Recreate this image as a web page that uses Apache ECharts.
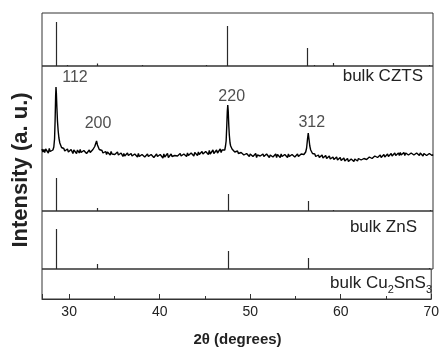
<!DOCTYPE html>
<html>
<head>
<meta charset="utf-8">
<script src="https://cdn.jsdelivr.net/npm/echarts@6/dist/echarts.min.js"></script>
<style>
  html, body { margin: 0; padding: 0; background: #fff; }
  #chart { width: 442px; height: 349px; }
</style>
</head>
<body>
<div id="chart"></div>
<script>
// measured CZTS film pattern, [2theta, intensity a.u.]
const cztsScan = [
  [27.0, 62], [27.1, 59], [27.2, 61.5], [27.3, 58.5], [27.4, 62], [27.5, 60], [27.6, 61], [27.7, 58],
  [27.8, 62.5], [27.9, 59.5], [28.0, 58.5], [28.1, 60.5],
  [28.2, 61], [28.3, 64], [28.38, 72], [28.44, 90], [28.5, 115], [28.54, 124], [28.58, 118],
  [28.64, 103], [28.7, 90], [28.78, 80], [28.86, 73], [28.96, 68], [29.05, 66.5], [29.15, 63.5],
  [29.25, 64], [29.35, 61.5],
  [29.4, 62.5], [29.5, 60], [29.6, 61.5], [29.7, 58.5], [29.8, 62], [29.9, 59], [30.0, 60.5], [30.1, 58],
  [30.2, 61.5], [30.3, 59.5], [30.4, 57.5], [30.5, 61], [30.6, 59], [30.7, 60.5], [30.8, 57.5], [30.9, 61],
  [31.0, 59.5], [31.1, 58], [31.2, 61.5], [31.3, 58.5], [31.4, 60], [31.5, 57.5], [31.6, 60.5], [31.7, 58.5],
  [31.8, 61], [31.9, 57.5], [32.0, 59.5], [32.1, 58], [32.2, 61], [32.3, 58.5], [32.4, 60.5], [32.5, 59],
  [32.6, 61.5], [32.7, 62], [32.8, 64.5], [32.9, 66], [33.0, 70], [33.05, 68.5], [33.1, 66], [33.2, 64],
  [33.3, 61.5], [33.4, 62], [33.5, 59.5],
  [33.6, 60.5], [33.7, 58], [33.8, 60], [33.9, 57.5], [34.0, 59.5], [34.1, 56.5], [34.2, 59], [34.3, 57],
  [34.4, 58.5], [34.5, 56], [34.6, 59.5], [34.7, 57], [34.8, 55.5], [34.9, 58.5], [35.0, 56.5], [35.1, 58],
  [35.2, 55.5], [35.3, 59], [35.4, 56], [35.5, 57.5], [35.6, 55], [35.7, 58], [35.8, 56.5], [35.9, 54.5],
  [36.0, 57.5], [36.1, 55], [36.2, 57], [36.3, 54.5], [36.4, 58], [36.5, 55.5], [36.6, 56.5], [36.7, 54],
  [36.8, 57.5], [36.9, 55], [37.0, 56], [37.1, 53.5], [37.2, 57], [37.3, 55], [37.4, 56.5], [37.5, 54],
  [37.6, 57.5], [37.7, 54.5], [37.8, 56], [37.9, 53.5], [38.0, 56.5], [38.1, 55], [38.2, 57], [38.3, 54],
  [38.4, 55.5], [38.5, 53.5], [38.6, 57], [38.7, 54.5], [38.8, 56], [38.9, 53], [39.0, 56.5], [39.1, 55],
  [39.2, 57], [39.3, 53.5], [39.4, 55.5], [39.5, 54], [39.6, 57], [39.7, 54.5], [39.8, 56], [39.9, 53],
  [40.0, 56.5], [40.1, 54.5], [40.2, 55.5], [40.3, 53], [40.4, 57], [40.5, 54], [40.6, 56], [40.7, 54.5],
  [40.8, 57.5], [40.9, 53.5], [41.0, 55.5], [41.1, 54], [41.2, 57], [41.3, 54.5], [41.4, 56], [41.5, 53],
  [41.6, 55.5], [41.7, 54], [41.8, 57], [41.9, 55], [42.0, 56.5], [42.1, 54], [42.2, 57.5], [42.3, 55],
  [42.4, 56], [42.5, 54], [42.6, 57], [42.7, 55.5], [42.8, 56.5], [42.9, 54.5], [43.0, 58], [43.1, 55.5],
  [43.2, 57], [43.3, 55], [43.4, 58], [43.5, 56], [43.6, 57.5], [43.7, 55], [43.8, 58.5], [43.9, 56.5],
  [44.0, 57.5], [44.1, 55.5], [44.2, 59], [44.3, 56.5], [44.4, 58], [44.5, 56], [44.6, 59.5], [44.7, 57],
  [44.8, 58.5], [44.9, 56], [45.0, 59.5], [45.1, 57.5], [45.2, 58], [45.3, 56.5], [45.4, 60.5], [45.5, 57],
  [45.6, 59], [45.7, 57.5], [45.8, 61], [45.9, 57.5], [46.0, 59.5], [46.1, 57], [46.2, 61], [46.3, 58],
  [46.4, 60], [46.5, 58.5], [46.6, 62], [46.7, 58.5], [46.8, 61], [46.9, 59.5],
  [47.0, 62.5], [47.1, 61], [47.18, 65], [47.25, 70], [47.32, 85], [47.38, 100], [47.43, 106], [47.48, 100],
  [47.54, 86], [47.6, 76], [47.68, 68], [47.75, 65], [47.83, 63.5], [47.9, 62], [48.0, 61], [48.1, 62],
  [48.2, 59], [48.3, 61], [48.4, 58], [48.5, 60], [48.6, 57.5], [48.7, 59.5], [48.8, 57], [48.9, 58.5],
  [49.0, 56.5], [49.1, 59], [49.2, 56], [49.3, 58], [49.4, 55.5], [49.5, 57.5], [49.6, 56], [49.7, 58],
  [49.8, 54.5], [49.9, 57], [50.0, 55.5], [50.1, 57.5], [50.2, 54.5], [50.3, 56], [50.4, 55], [50.5, 57.5],
  [50.6, 53.5], [50.7, 56], [50.8, 54.5], [50.9, 57], [51.0, 55], [51.1, 56.5], [51.2, 53.5], [51.3, 57],
  [51.4, 54.5], [51.5, 56], [51.6, 54], [51.7, 57], [51.8, 55], [51.9, 56.5], [52.0, 53.5], [52.1, 56],
  [52.2, 55], [52.3, 57.5], [52.4, 54], [52.5, 56], [52.6, 54.5], [52.7, 57], [52.8, 53.5], [52.9, 56.5],
  [53.0, 55], [53.1, 56], [53.2, 53.5], [53.3, 57], [53.4, 54.5], [53.5, 56], [53.6, 53], [53.7, 56.5],
  [53.8, 54.5], [53.9, 55.5], [54.0, 53.5], [54.1, 57], [54.2, 54.5], [54.3, 56], [54.4, 54], [54.5, 56.5],
  [54.6, 55], [54.7, 57], [54.8, 54], [54.9, 56], [55.0, 55], [55.1, 57], [55.2, 54.5], [55.3, 56.5],
  [55.4, 55], [55.5, 57], [55.6, 55.5], [55.7, 57.5],
  [55.8, 56.5], [55.9, 58.5], [56.0, 59], [56.1, 63], [56.2, 72], [56.28, 78], [56.36, 72], [56.45, 65],
  [56.55, 61], [56.65, 59.5], [56.75, 57.5], [56.85, 58],
  [56.9, 55.5], [57.0, 57], [57.1, 54.5], [57.2, 56.5], [57.3, 54], [57.4, 56], [57.5, 53.5], [57.6, 55.5],
  [57.7, 54], [57.8, 56], [57.9, 53], [58.0, 55], [58.1, 53.5], [58.2, 55.5], [58.3, 52.5], [58.4, 54.5],
  [58.5, 53], [58.6, 55], [58.7, 52], [58.8, 54], [58.9, 52.5], [59.0, 54], [59.1, 51.5], [59.2, 53.5],
  [59.3, 52], [59.4, 54], [59.5, 51], [59.6, 53], [59.7, 51.5], [59.8, 53.5], [59.9, 50.5], [60.0, 52.5],
  [60.1, 51], [60.2, 53], [60.3, 50], [60.4, 52], [60.5, 50.5], [60.6, 52.5], [60.7, 49.5], [60.8, 51.5],
  [60.9, 50], [61.0, 52], [61.1, 50], [61.2, 51.5], [61.3, 49.5], [61.4, 52], [61.5, 50.5], [61.6, 52],
  [61.7, 50], [61.8, 52.5], [61.9, 50.5], [62.0, 52], [62.1, 51], [62.2, 53], [62.3, 50.5], [62.4, 52.5],
  [62.5, 51.5], [62.6, 53.5], [62.7, 51.5], [62.8, 53], [62.9, 52], [63.0, 54], [63.1, 52], [63.2, 54.5],
  [63.3, 52.5], [63.4, 54], [63.5, 53], [63.6, 55], [63.7, 53], [63.8, 55.5], [63.9, 53.5], [64.0, 55],
  [64.1, 54], [64.2, 56], [64.3, 53.5], [64.4, 55.5], [64.5, 54.5], [64.6, 56.5], [64.7, 54], [64.8, 56],
  [64.9, 55], [65.0, 57], [65.1, 54.5], [65.2, 56.5], [65.3, 55.5], [65.4, 57.5], [65.5, 55], [65.6, 57],
  [65.7, 55.5], [65.8, 58], [65.9, 55.5], [66.0, 57.5], [66.1, 56], [66.2, 58], [66.3, 55.5], [66.4, 58.5],
  [66.5, 56], [66.6, 57.5], [66.7, 56.5], [66.8, 58.5], [66.9, 55.5], [67.0, 58], [67.1, 56.5], [67.2, 58.5],
  [67.3, 56], [67.4, 57.5], [67.5, 55.5], [67.6, 58], [67.7, 56.5], [67.8, 58.5], [67.9, 56], [68.0, 57.5],
  [68.1, 55.5], [68.2, 58], [68.3, 56], [68.4, 57.5], [68.5, 55.5], [68.6, 58], [68.7, 56.5], [68.8, 57.5],
  [68.9, 55], [69.0, 57.5], [69.1, 56], [69.2, 58], [69.3, 55.5], [69.4, 57], [69.5, 55], [69.6, 57.5],
  [69.7, 56], [69.8, 57], [69.9, 55.5], [70.0, 56.5]
];

// reference stick patterns (position, relative height)
const topRefPos = [28.5, 29.7, 33.0, 38.05, 45.0, 47.3, 56.15, 56.9, 59.0, 69.6];
const topRefH = [44, 1, 2.5, 1, 1, 40, 18, 1, 3, 1];
const cztsRefPos = [28.5, 33.0, 47.5, 56.3, 59.0, 69.7];
const cztsRefH = [33, 3, 17, 10, 1, 1];
const znsRefPos = [28.5, 33.0, 47.5, 56.3, 69.6];
const znsRefH = [40, 5, 18, 11, 1];

// peak index labels and where they sit (2theta, intensity)
const peakNames = ["112", "200", "220", "312"];
const peakLabelAt = [[30.63, 133], [33.16, 87], [47.86, 114.5], [56.67, 88.3]];

const FONT = "Arial, 'Liberation Sans', sans-serif";
const panels = [
  { top: 13, height: 53, ymax: 53 },
  { top: 66, height: 145, ymax: 145 },
  { top: 211, height: 58, ymax: 58 },
  { top: 269, height: 30, ymax: 30 },
];

const chart = echarts.init(document.getElementById("chart"));

const sticks = (idx, pos, hts) => ({
  type: "custom",
  xAxisIndex: idx,
  yAxisIndex: idx,
  silent: true,
  data: pos.map((p, i) => [p, hts[i]]),
  renderItem: (params, api) => {
    const a = api.coord([api.value(0), 0]);
    const b = api.coord([api.value(0), api.value(1)]);
    const x = Math.round(a[0]) + 0.5;
    return {
      type: "line",
      shape: { x1: x, y1: a[1], x2: x, y2: b[1] },
      style: { stroke: "#2a2a2a", lineWidth: 1.2 },
    };
  },
});

const last = panels.length - 1;

const option = {
  animation: false,
  backgroundColor: "#fff",
  grid: panels.map((p) => ({
    left: 42,
    width: 391,
    top: p.top,
    height: p.height,
    show: true,
    borderColor: "#333",
    borderWidth: 1,
  })),
  xAxis: panels.map((p, i) => ({
    type: "value",
    gridIndex: i,
    min: 27,
    max: 70,
    splitNumber: 5,
    splitLine: { show: false },
    axisLine: { show: i === last, lineStyle: { color: "#333" } },
    axisTick: {
      show: i === last,
      inside: true,
      length: 5,
      lineStyle: { color: "#333" },
    },
    minorTick: {
      show: i === last,
      splitNumber: 2,
      length: 3,
      lineStyle: { color: "#333" },
    },
    axisLabel: {
      show: i === last,
      showMinLabel: false,
      fontSize: 14,
      fontFamily: FONT,
      color: "#222",
      margin: 6,
    },
  })),
  yAxis: panels.map((p, i) => ({
    type: "value",
    gridIndex: i,
    min: 0,
    max: p.ymax,
    show: false,
  })),
  series: [
    sticks(0, topRefPos, topRefH),
    {
      type: "line",
      xAxisIndex: 1,
      yAxisIndex: 1,
      data: cztsScan,
      showSymbol: false,
      silent: true,
      sampling: null,
      lineStyle: { color: "#000", width: 1.4 },
    },
    sticks(1, cztsRefPos, cztsRefH),
    sticks(2, znsRefPos, znsRefH),
    {
      type: "scatter",
      xAxisIndex: 1,
      yAxisIndex: 1,
      symbolSize: 0,
      silent: true,
      data: peakLabelAt.map((c, i) => [c[0], c[1], peakNames[i]]),
      label: {
        show: true,
        position: "inside",
        formatter: (p) => p.value[2],
        fontSize: 16,
        fontFamily: FONT,
        color: "#222",
      },
    },
  ],
  graphic: [
    {
      type: "text",
      right: 442 - 423,
      top: 68,
      style: { text: "bulk CZTS", fontSize: 17, fontFamily: FONT, fill: "#222" },
    },
    {
      type: "text",
      right: 442 - 417,
      top: 219,
      style: { text: "bulk ZnS", fontSize: 17, fontFamily: FONT, fill: "#222" },
    },
    {
      type: "text",
      x: 432,
      y: 283,
      style: {
        text: "bulk Cu{sub|2}SnS{sub|3}",
        align: "right",
        verticalAlign: "middle",
        fontSize: 17,
        fontFamily: FONT,
        fill: "#222",
        rich: {
          sub: {
            fontSize: 11,
            fontFamily: FONT,
            fill: "#222",
            padding: [14, 0, 0, 0],
            verticalAlign: "bottom",
          },
        },
      },
    },
    {
      type: "text",
      x: 21,
      y: 170,
      rotation: Math.PI / 2,
      style: {
        text: "Intensity (a. u.)",
        align: "center",
        verticalAlign: "middle",
        fontSize: 22,
        fontWeight: "bold",
        fontFamily: FONT,
        fill: "#222",
      },
    },
    {
      type: "text",
      x: 237.5,
      y: 340,
      style: {
        text: "2\u03b8 (degrees)",
        align: "center",
        verticalAlign: "middle",
        fontSize: 15,
        fontWeight: "bold",
        fontFamily: FONT,
        fill: "#222",
      },
    },
  ],
};

chart.setOption(option);
</script>
</body>
</html>
